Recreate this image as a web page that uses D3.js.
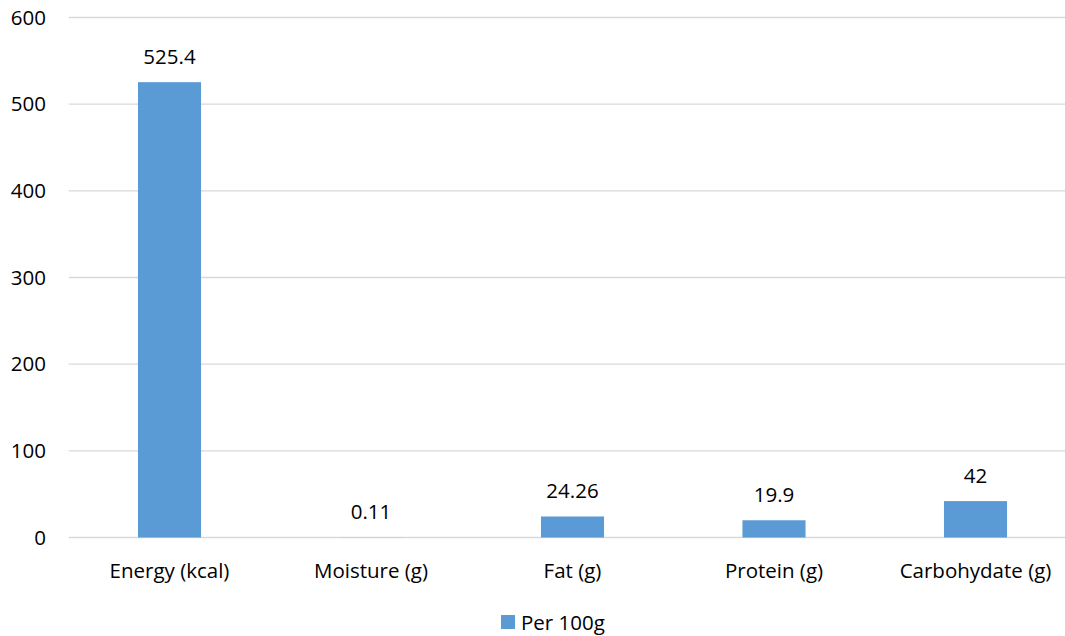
<!DOCTYPE html>
<html>
<head>
<meta charset="utf-8">
<script src="https://cdn.jsdelivr.net/npm/d3@7"></script>
<style>
  body { margin: 0; background: #fff; }
  svg text { font-family: "Open Sans", Lato, sans-serif; fill: #000; }
</style>
</head>
<body>
<svg id="chart" width="1065" height="636"></svg>
<script>
// Nutrient composition per 100 g
const categories = ["Energy (kcal)", "Moisture (g)", "Fat (g)", "Protein (g)", "Carbohydate (g)"];
const values = [525.4, 0.11, 24.26, 19.9, 42];
const valueLabels = ["525.4", "0.11", "24.26", "19.9", "42"];
const yTicks = [0, 100, 200, 300, 400, 500, 600];
const seriesName = "Per 100g";

(function () {
  const svg = d3.select("#chart");
  const plotLeft = 68.75, plotRight = 1076.25, plotTop = 17.5, plotBottom = 537.5;
  const gridRight = 1065;
  const barColor = "#5b9bd5";
  const font = "'Open Sans', Lato, sans-serif";
  const fontSize = 20.5;

  const x = d3.scaleBand().domain(categories).range([plotLeft, plotRight]).paddingInner(0.687).paddingOuter(0.3435);
  const y = d3.scaleLinear().domain([0, 600]).range([plotBottom, plotTop]);

  // Horizontal gridlines
  svg.append("g").selectAll("line").data(yTicks).join("line")
    .attr("x1", plotLeft).attr("x2", gridRight)
    .attr("y1", d => y(d)).attr("y2", d => y(d))
    .attr("stroke", "#d9d9d9").attr("stroke-width", 1.3);

  // Y axis labels
  const yAxis = d3.axisLeft(y).tickValues(yTicks).tickSize(0).tickPadding(0);
  const gy = svg.append("g").attr("transform", "translate(46,0)").call(yAxis);
  gy.select(".domain").remove();
  gy.selectAll("text").attr("font-size", fontSize).attr("font-family", font).attr("fill", "#000");

  // Bars
  svg.append("g").selectAll("rect").data(values).join("rect")
    .attr("x", (d, i) => x(categories[i]))
    .attr("width", x.bandwidth())
    .attr("y", d => y(d))
    .attr("height", d => y(0) - y(d))
    .attr("fill", barColor);

  // Value labels
  svg.append("g").selectAll("text").data(values).join("text")
    .attr("x", (d, i) => x(categories[i]) + x.bandwidth() / 2)
    .attr("y", d => y(d) - 18)
    .attr("text-anchor", "middle")
    .attr("font-size", fontSize)
    .text((d, i) => valueLabels[i]);

  // X axis category labels
  const xAxis = d3.axisBottom(x).tickSize(0).tickPadding(0);
  const gx = svg.append("g").attr("transform", `translate(0,${plotBottom + 40})`).call(xAxis);
  gx.select(".domain").remove();
  gx.selectAll("text").attr("font-size", fontSize).attr("font-family", font).attr("fill", "#000").attr("dy", 0);

  // Legend
  const legend = svg.append("g").attr("transform", "translate(501,615)");
  legend.append("rect").attr("width", 14).attr("height", 14).attr("fill", barColor);
  legend.append("text").attr("x", 20).attr("y", 14.5).attr("font-size", fontSize).text(seriesName);
})();
</script>
</body>
</html>
